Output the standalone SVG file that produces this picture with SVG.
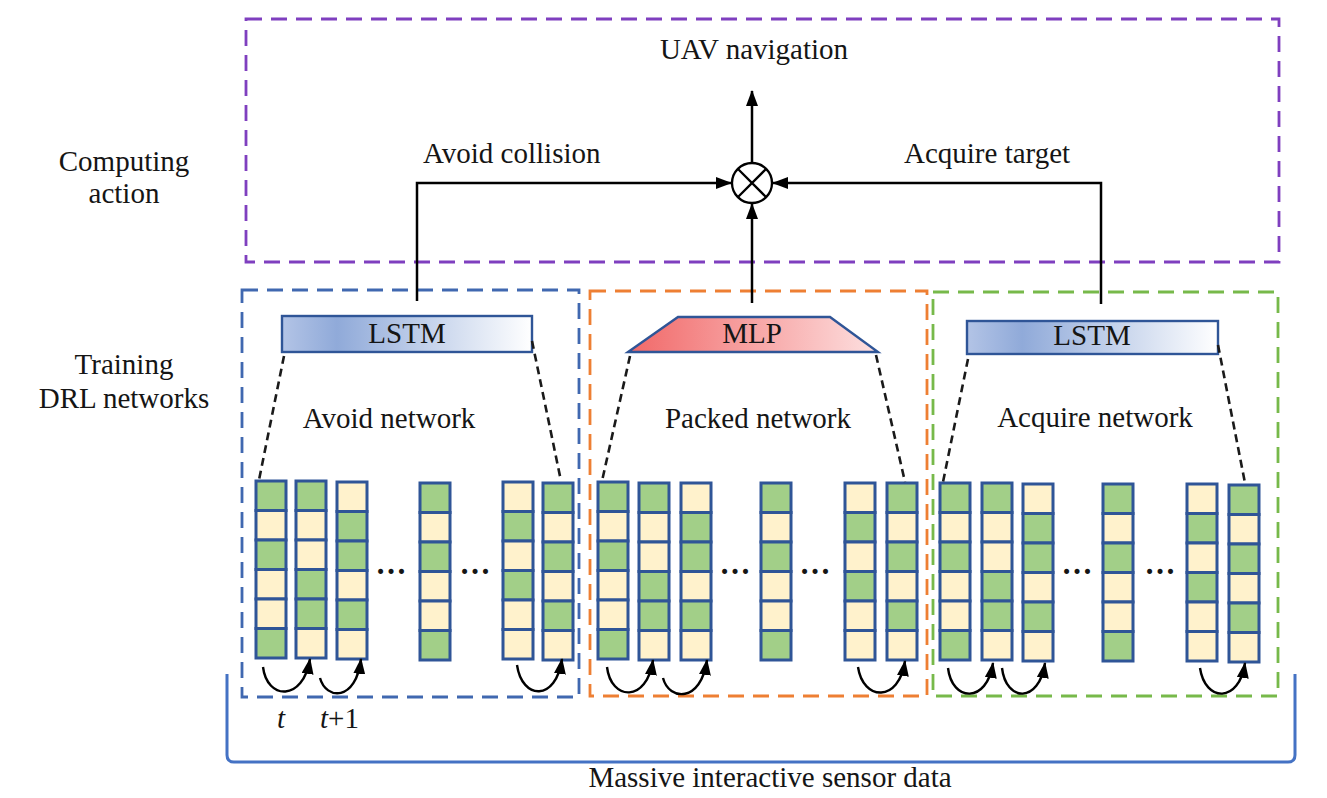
<svg xmlns="http://www.w3.org/2000/svg" xmlns:xlink="http://www.w3.org/1999/xlink" width="1327" height="798" viewBox="0 0 1327 798">
<style>
text{font-family:"Liberation Serif","Times New Roman",serif;font-size:29px;fill:#151515}
.c{text-anchor:middle}
.dots{font-size:31px;font-weight:bold}
.g{fill:#a2cf88;stroke:#2f5597;stroke-width:3}
.y{fill:#fff2cc;stroke:#2f5597;stroke-width:3}
.frame{fill:none;stroke-width:2.8;stroke-dasharray:16 9}
.link{fill:none;stroke:#000;stroke-width:2.5}
.dl{fill:none;stroke:#1a1a1a;stroke-width:2.6;stroke-dasharray:8 5}
.arc{fill:none;stroke:#000;stroke-width:2.4}
.box{stroke:#2f5597;stroke-width:2.4}
</style>
<defs>
<marker id="ah" markerUnits="userSpaceOnUse" markerWidth="16" markerHeight="12" refX="15" refY="6" orient="auto">
<path d="M0,0 L16,6 L0,12 z" fill="#000"/>
</marker>
<marker id="ahs" markerUnits="userSpaceOnUse" markerWidth="16" markerHeight="12" refX="15" refY="6" orient="auto">
<path d="M0,0 L16,6 L0,12 z" fill="#000"/>
</marker>
<linearGradient id="lstm" x1="0" y1="0" x2="1" y2="0">
<stop offset="0" stop-color="#b3c4e6"/>
<stop offset="0.22" stop-color="#90aad9"/>
<stop offset="1" stop-color="#ffffff"/>
</linearGradient>
<linearGradient id="mlp" x1="0" y1="0" x2="1" y2="0">
<stop offset="0" stop-color="#f16868"/>
<stop offset="1" stop-color="#fde0e0"/>
</linearGradient>
<g id="pA"><rect class="g" width="30" height="29.5"/><rect class="y" y="29.5" width="30" height="29.5"/><rect class="g" y="59" width="30" height="29.5"/><rect class="y" y="88.5" width="30" height="29.5"/><rect class="y" y="118" width="30" height="29.5"/><rect class="g" y="147.5" width="30" height="29.5"/></g>
<g id="pB"><rect class="g" width="30" height="29.5"/><rect class="y" y="29.5" width="30" height="29.5"/><rect class="y" y="59" width="30" height="29.5"/><rect class="g" y="88.5" width="30" height="29.5"/><rect class="g" y="118" width="30" height="29.5"/><rect class="y" y="147.5" width="30" height="29.5"/></g>
<g id="pC"><rect class="y" width="30" height="29.5"/><rect class="g" y="29.5" width="30" height="29.5"/><rect class="g" y="59" width="30" height="29.5"/><rect class="y" y="88.5" width="30" height="29.5"/><rect class="g" y="118" width="30" height="29.5"/><rect class="y" y="147.5" width="30" height="29.5"/></g>
<g id="pE"><rect class="y" width="30" height="29.5"/><rect class="g" y="29.5" width="30" height="29.5"/><rect class="y" y="59" width="30" height="29.5"/><rect class="g" y="88.5" width="30" height="29.5"/><rect class="y" y="118" width="30" height="29.5"/><rect class="y" y="147.5" width="30" height="29.5"/></g>
<g id="pF"><rect class="g" width="30" height="29.5"/><rect class="y" y="29.5" width="30" height="29.5"/><rect class="g" y="59" width="30" height="29.5"/><rect class="y" y="88.5" width="30" height="29.5"/><rect class="g" y="118" width="30" height="29.5"/><rect class="y" y="147.5" width="30" height="29.5"/></g>
</defs>
<rect width="1327" height="798" fill="#fff"/>

<g id="frames">
<rect class="frame" x="246" y="19" width="1033" height="243" stroke="#7f3fbf"/>
<rect class="frame" x="242" y="290" width="337" height="407" stroke="#4068b0"/>
<rect class="frame" x="590" y="291" width="337" height="405" stroke="#ee7f33"/>
<rect class="frame" x="933" y="292" width="345" height="404" stroke="#77b94a"/>
</g>

<g id="side-labels">
<text class="c" x="124" y="171">Computing</text>
<text class="c" x="124" y="203">action</text>
<text class="c" x="124" y="374">Training</text>
<text class="c" x="124" y="408">DRL networks</text>
</g>

<g id="top-labels">
<text class="c" x="754" y="59">UAV navigation</text>
<text x="423" y="163">Avoid collision</text>
<text x="904" y="163">Acquire target</text>
</g>

<g id="combiner">
<circle cx="752" cy="183" r="20" fill="#fff" stroke="#000" stroke-width="2.3"/>
<path d="M738,169 L766,197 M766,169 L738,197" stroke="#000" stroke-width="2.3"/>
</g>

<g id="lstm-avoid">
<rect class="box" x="282" y="316" width="250" height="36" fill="url(#lstm)"/>
<text class="c" x="407" y="343">LSTM</text>
</g>
<g id="mlp-packed">
<path class="box" d="M678,317 L830,317 L878,352 L628,352 z" fill="url(#mlp)"/>
<text class="c" x="752" y="343">MLP</text>
</g>
<g id="lstm-acquire">
<rect class="box" x="967" y="321" width="251" height="33" fill="url(#lstm)"/>
<text class="c" x="1092" y="345">LSTM</text>
</g>

<g id="network-labels">
<text class="c" x="389" y="428">Avoid network</text>
<text class="c" x="758" y="428">Packed network</text>
<text class="c" x="1095" y="427">Acquire network</text>
</g>

<g id="columns-avoid">
<use xlink:href="#pA" x="256" y="481"/>
<use xlink:href="#pB" x="296" y="481"/>
<use xlink:href="#pC" x="337" y="482"/>
<use xlink:href="#pA" x="420" y="483"/>
<use xlink:href="#pE" x="503" y="482"/>
<use xlink:href="#pF" x="543" y="483"/>
<text class="c dots" x="391" y="574">…</text>
<text class="c dots" x="475" y="574">…</text>
</g>
<g id="columns-packed">
<use xlink:href="#pA" x="598" y="482"/>
<use xlink:href="#pB" x="639" y="483"/>
<use xlink:href="#pC" x="681" y="483"/>
<use xlink:href="#pA" x="761" y="483"/>
<use xlink:href="#pE" x="845" y="483"/>
<use xlink:href="#pF" x="887" y="483"/>
<text class="c dots" x="735" y="574">…</text>
<text class="c dots" x="815" y="574">…</text>
</g>
<g id="columns-acquire">
<use xlink:href="#pA" x="940" y="483"/>
<use xlink:href="#pB" x="982" y="483"/>
<use xlink:href="#pC" x="1023" y="484"/>
<use xlink:href="#pA" x="1103" y="484"/>
<use xlink:href="#pE" x="1187" y="484"/>
<use xlink:href="#pF" x="1229" y="485"/>
<text class="c dots" x="1077" y="574">…</text>
<text class="c dots" x="1160" y="574">…</text>
</g>

<g id="connectors">
<path class="link" d="M417,301 L417,183 L731,183" marker-end="url(#ah)"/>
<path class="link" d="M1101,304 L1101,183 L773,183" marker-end="url(#ah)"/>
<path class="link" d="M752,303 L752,204" marker-end="url(#ah)"/>
<path class="link" d="M752,163 L752,91" marker-end="url(#ah)"/>
<path class="dl" d="M284,356 L259,480"/>
<path class="dl" d="M532,341 L561,481"/>
<path class="dl" d="M630,356 L602,481"/>
<path class="dl" d="M876,355 L905,482"/>
<path class="dl" d="M968,359 L943,482"/>
<path class="dl" d="M1218,345 L1245,483"/>
<path class="arc" d="M263,667 C267,700 303,702 310,659" marker-end="url(#ahs)"/>
<path class="arc" d="M320,678 C326,700 356,702 361,659" marker-end="url(#ahs)"/>
<path class="arc" d="M517,665 C522,700 556,702 562,659" marker-end="url(#ahs)"/>
<path class="arc" d="M607,667 C611,701 647,703 653,660" marker-end="url(#ahs)"/>
<path class="arc" d="M663,678 C669,701 701,703 707,660" marker-end="url(#ahs)"/>
<path class="arc" d="M858,667 C863,701 899,703 905,661" marker-end="url(#ahs)"/>
<path class="arc" d="M948,668 C952,702 987,704 993,663" marker-end="url(#ahs)"/>
<path class="arc" d="M1002,668 C1006,702 1039,704 1045,663" marker-end="url(#ahs)"/>
<path class="arc" d="M1200,668 C1205,702 1239,704 1245,663" marker-end="url(#ahs)"/>
</g>

<g id="time-labels">
<text x="277" y="728" font-style="italic">t</text>
<text x="320" y="728"><tspan font-style="italic">t</tspan>+1</text>
</g>

<g id="sensor-brace">
<path d="M227,674 L227,755 Q227,762 234,762 L1288,762 Q1295,762 1295,755 L1295,674" fill="none" stroke="#4472c4" stroke-width="3"/>
<text class="c" x="770" y="787">Massive interactive sensor data</text>
</g>
</svg>
